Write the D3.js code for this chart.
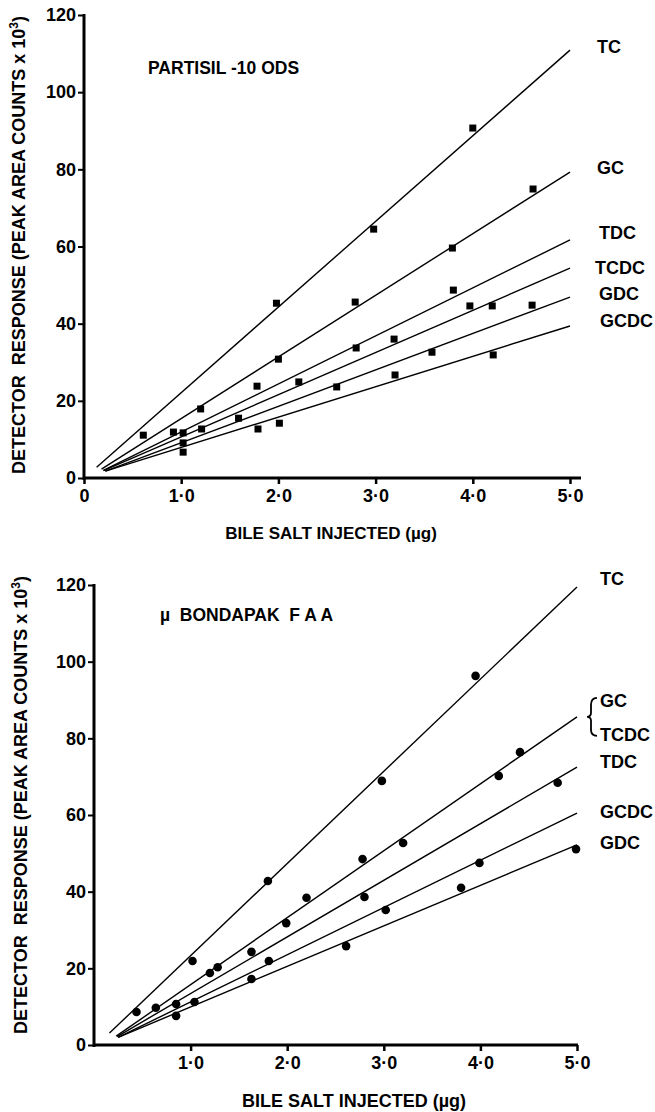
<!DOCTYPE html>
<html>
<head>
<meta charset="utf-8">
<script src="https://cdn.jsdelivr.net/npm/d3@7"></script>
<style>
  html, body { margin: 0; padding: 0; background: #fff; }
  svg { display: block; }
  text { font-family: "Liberation Sans", Arial, Helvetica, sans-serif; font-weight: bold; fill: #000; }
</style>
</head>
<body>
<svg id="chart" width="655" height="1112"></svg>
<script>
// ---- Panel A: Partisil-10 ODS (square markers) ----
const topTitle = "PARTISIL -10 ODS";
const topNames = ["TC", "GC", "TDC", "TCDC", "GDC", "GCDC"];
const topPoints = [
  [[0.61, 11.1], [1.98, 45.3], [2.98, 64.5], [4.00, 90.7]],
  [[1.20, 17.9], [2.00, 30.8], [2.79, 45.6], [3.79, 59.6], [4.62, 74.9]],
  [[0.92, 11.9], [1.78, 23.8], [2.80, 33.7], [3.80, 48.7]],
  [[1.02, 11.7], [1.21, 12.7], [2.21, 24.9], [3.19, 36.0], [3.97, 44.6], [4.20, 44.6]],
  [[1.02, 9.1], [1.59, 15.5], [2.60, 23.6], [3.58, 32.6], [4.61, 44.8]],
  [[1.02, 6.7], [1.79, 12.7], [2.01, 14.2], [3.20, 26.7], [4.21, 31.9]]
];
// fitted calibration lines: [start, end] in (µg, counts x 10^3)
const topFits = [
  [[0.13, 2.8], [5.0, 110.9]],
  [[0.18, 2.3], [5.0, 79.3]],
  [[0.20, 2.0], [5.0, 61.7]],
  [[0.20, 1.9], [5.0, 54.4]],
  [[0.22, 1.8], [5.0, 46.9]],
  [[0.22, 1.8], [5.0, 39.4]]
];

// ---- Panel B: µBondapak FAA (round markers) ----
const botTitle = "µ  BONDAPAK  F A A";
const botNames = ["TC", "GC/TCDC", "TDC", "GCDC", "GDC"];
const botPoints = [
  [[0.44, 8.6], [1.02, 21.9], [1.80, 42.8], [2.98, 68.9], [3.95, 96.3]],
  [[0.64, 9.7], [1.20, 18.8], [1.28, 20.3], [1.99, 31.8], [2.20, 38.4], [2.78, 48.5], [3.20, 52.7], [4.19, 70.2], [4.41, 76.4]],
  [[0.85, 10.7], [1.63, 24.3], [2.80, 38.6], [4.80, 68.4]],
  [[1.81, 21.9], [3.02, 35.2], [3.99, 47.5]],
  [[0.85, 7.6], [1.04, 11.2], [1.63, 17.2], [2.61, 25.8], [3.80, 41.0], [4.99, 51.1]]
];
const botFits = [
  [[0.16, 3.1], [5.0, 119.5]],
  [[0.23, 2.3], [5.0, 85.6]],
  [[0.24, 2.2], [5.0, 72.5]],
  [[0.25, 2.0], [5.0, 60.5]],
  [[0.25, 2.0], [5.0, 52.2]]
];

const yTicks = [0, 20, 40, 60, 80, 100, 120];
const topXTicks = [0, 1, 2, 3, 4, 5];
const botXTicks = [1, 2, 3, 4, 5];
const xTickLabel = v => v === 0 ? "0" : d3.format(".1f")(v).replace(".", "·");
const xTitle = "BILE SALT INJECTED (µg)";

const svg = d3.select("#chart");

function drawPanel(cfg) {
  const g = svg.append("g");
  const x = d3.scaleLinear().domain([0, 5]).range(cfg.xRange);
  const y = d3.scaleLinear().domain([0, 120]).range(cfg.yRange);

  // y axis
  const yAxis = g.append("g")
    .attr("transform", `translate(${cfg.xRange[0]},0)`)
    .call(d3.axisLeft(y).tickValues(yTicks).tickSize(6).tickSizeOuter(0).tickPadding(2));
  yAxis.select(".domain").remove();
  yAxis.selectAll(".tick line").attr("stroke", "#000").attr("stroke-width", 2);
  yAxis.selectAll(".tick text")
    .style("font-size", "18px").style("font-family", null).attr("fill", "#000");
  g.append("line")
    .attr("x1", cfg.xRange[0]).attr("x2", cfg.xRange[0])
    .attr("y1", y(120) - 1).attr("y2", y(0) + 2)
    .attr("stroke", "#000").attr("stroke-width", 3);

  // x axis
  const xAxis = g.append("g")
    .attr("transform", `translate(0,${cfg.yRange[0]})`)
    .call(d3.axisBottom(x).tickValues(cfg.xTicks).tickFormat(xTickLabel)
      .tickSize(6).tickSizeOuter(0).tickPadding(5));
  xAxis.select(".domain").remove();
  xAxis.selectAll(".tick line").attr("stroke", "#000").attr("stroke-width", 2.5);
  xAxis.selectAll(".tick text")
    .style("font-size", "18px").style("font-family", null).attr("fill", "#000");
  g.append("line")
    .attr("x1", cfg.xRange[0] - 1).attr("x2", cfg.xAxisEnd)
    .attr("y1", cfg.yRange[0]).attr("y2", cfg.yRange[0])
    .attr("stroke", "#000").attr("stroke-width", 3);

  // fitted lines
  const line = d3.line().x(d => x(d[0])).y(d => y(d[1]));
  g.selectAll("path.fit").data(cfg.fits).join("path")
    .attr("class", "fit")
    .attr("d", line)
    .attr("fill", "none").attr("stroke", "#000").attr("stroke-width", 1.4);

  // markers
  cfg.points.forEach(series => {
    if (cfg.marker === "square") {
      g.selectAll(null).data(series).join("rect")
        .attr("x", d => x(d[0]) - 3.5).attr("y", d => y(d[1]) - 3.5)
        .attr("width", 7).attr("height", 7).attr("fill", "#000");
    } else {
      g.selectAll(null).data(series).join("circle")
        .attr("cx", d => x(d[0])).attr("cy", d => y(d[1]))
        .attr("r", 4.3).attr("fill", "#000");
    }
  });

  // panel title
  g.append("text")
    .attr("x", cfg.titlePos[0]).attr("y", cfg.titlePos[1])
    .style("font-size", "17.5px")
    .style("white-space", "pre")
    .text(cfg.title);

  // axis titles
  g.append("text")
    .attr("x", cfg.xTitlePos[0]).attr("y", cfg.xTitlePos[1])
    .attr("text-anchor", "middle")
    .style("font-size", cfg.xTitleSize)
    .text(xTitle);

  const yt = g.append("text")
    .attr("transform", `translate(${cfg.yTitlePos[0]},${cfg.yTitlePos[1]}) rotate(-90)`)
    .attr("text-anchor", "middle")
    .style("font-size", "18px")
    .style("white-space", "pre");
  yt.append("tspan").text("DETECTOR  RESPONSE (PEAK AREA COUNTS x 10");
  yt.append("tspan").attr("dy", -7).style("font-size", "12px").text("3");
  yt.append("tspan").attr("dy", 7).text(")");

  return { g, x, y };
}

// ---------- top panel ----------
const A = drawPanel({
  xRange: [84, 570], yRange: [478, 15], xAxisEnd: 581,
  xTicks: topXTicks, fits: topFits, points: topPoints, marker: "square",
  title: topTitle, titlePos: [148, 74],
  xTitlePos: [331, 539], xTitleSize: "17px",
  yTitlePos: [25, 245]
});
const topLabelDy = [-3, -4, -7, 0, -3, -5];
const topLabelDx = [0, 0, 2, -2, 2, 3];
A.g.selectAll("text.lab").data(topNames).join("text")
  .attr("class", "lab")
  .attr("x", (d, i) => 597 + topLabelDx[i])
  .attr("y", (d, i) => A.y(topFits[i][1][1]) + topLabelDy[i])
  .attr("dominant-baseline", "central")
  .style("font-size", "18px")
  .text(d => d);

// ---------- bottom panel ----------
const B = drawPanel({
  xRange: [94, 577], yRange: [1045, 585], xAxisEnd: 578,
  xTicks: botXTicks, fits: botFits, points: botPoints, marker: "circle",
  title: botTitle, titlePos: [160, 621],
  xTitlePos: [354, 1107], xTitleSize: "18px",
  yTitlePos: [27, 805]
});
const botLabels = [
  { name: "TC", i: 0, dy: -8 },
  { name: "GC", i: 1, dy: -16 },
  { name: "TCDC", i: 1, dy: 18 },
  { name: "TDC", i: 2, dy: -5 },
  { name: "GCDC", i: 3, dy: -1 },
  { name: "GDC", i: 4, dy: -2 }
];
B.g.selectAll("text.lab").data(botLabels).join("text")
  .attr("class", "lab")
  .attr("x", 600)
  .attr("y", d => B.y(botFits[d.i][1][1]) + d.dy)
  .attr("dominant-baseline", "central")
  .style("font-size", "18px")
  .text(d => d.name);

// brace grouping GC and TCDC, which share one calibration line
const by = B.y(botFits[1][1][1]);
B.g.append("path")
  .attr("d", `M597,${by - 19} Q591,${by - 19} 591,${by - 12} L591,${by - 4} Q591,${by} 587,${by}
              Q591,${by} 591,${by + 4} L591,${by + 13} Q591,${by + 19} 597,${by + 19}`)
  .attr("fill", "none").attr("stroke", "#000").attr("stroke-width", 1.8);
</script>
</body>
</html>
